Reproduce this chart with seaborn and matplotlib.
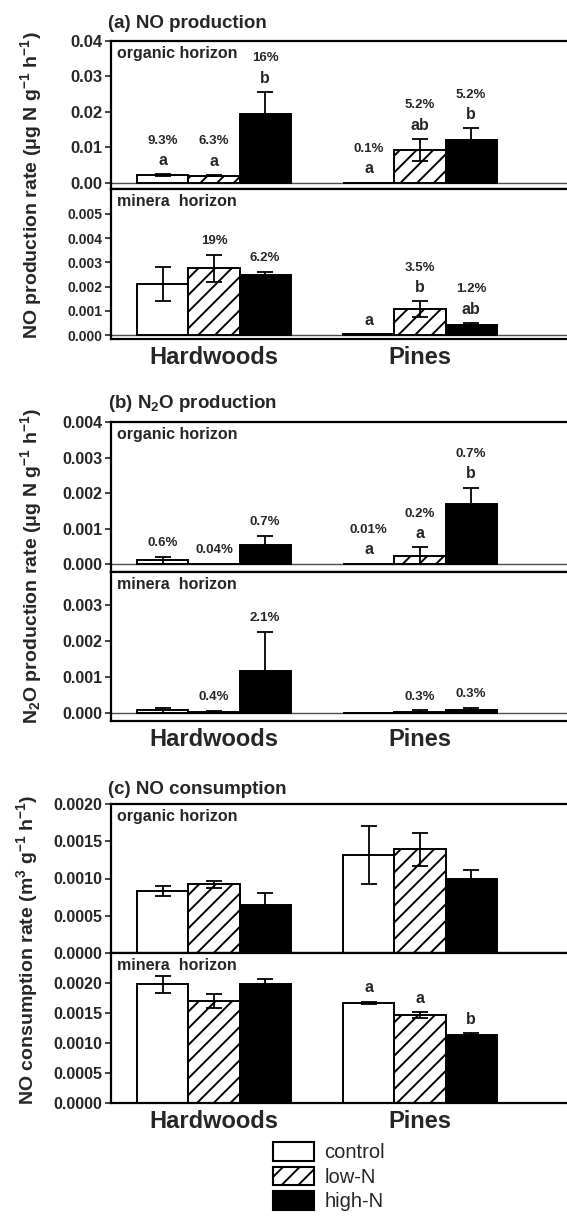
import numpy as np
import pandas as pd
import matplotlib
matplotlib.use("Agg")
import matplotlib.pyplot as plt
import seaborn as sns
from matplotlib.patches import Patch
from matplotlib.container import BarContainer
from matplotlib.ticker import FixedLocator, FormatStrFormatter

# categories
forests = ["Hardwoods", "Pines"]
treatments = ["control", "low-N", "high-N"]
bar_colors = ["white", "white", "black"]
hatches = ["", "//", ""]

# values in order: Hardwoods (control, low-N, high-N), Pines (control, low-N, high-N)
# (a) NO production
a_org_mean = [0.0022, 0.0021, 0.0195, 0.0001, 0.0093, 0.0120]
a_org_err = [0.0002, 0.0001, 0.0062, 0.0, 0.0031, 0.0034]
a_org_pct = ["9.3%", "6.3%", "16%", "0.1%", "5.2%", "5.2%"]
a_org_sig = ["a", "a", "b", "a", "ab", "b"]

a_min_mean = [0.00212, 0.00275, 0.00248, 0.00004, 0.00106, 0.00040]
a_min_err = [0.0007, 0.00055, 0.00014, 0.0, 0.00033, 0.0001]
a_min_pct = ["", "19%", "6.2%", "", "3.5%", "1.2%"]
a_min_sig = ["", "", "", "a", "b", "ab"]

# (b) N2O production
b_org_mean = [0.0001, 0.00001, 0.00053, 0.00001, 0.00023, 0.00169]
b_org_err = [0.0001, 0.0, 0.00027, 0.0, 0.00024, 0.00046]
b_org_pct = ["0.6%", "0.04%", "0.7%", "0.01%", "0.2%", "0.7%"]
b_org_sig = ["", "", "", "a", "a", "b"]

b_min_mean = [0.00008, 0.00003, 0.00115, 0.0, 0.00004, 0.00008]
b_min_err = [0.00007, 0.00004, 0.0011, 0.0, 0.00004, 0.00007]
b_min_pct = ["", "0.4%", "2.1%", "", "0.3%", "0.3%"]
b_min_sig = ["", "", "", "", "", ""]

# (c) NO consumption
c_org_mean = [0.00083, 0.00092, 0.00065, 0.00131, 0.00139, 0.00100]
c_org_err = [0.00007, 0.00005, 0.00015, 0.00039, 0.00022, 0.00011]
c_min_mean = [0.00198, 0.00170, 0.00198, 0.00167, 0.00146, 0.00113]
c_min_err = [0.00014, 0.00012, 0.00009, 0.00002, 0.00005, 0.00004]
c_min_sig = ["", "", "", "a", "a", "b"]

# tick values
a_org_ticks = [0.0, 0.01, 0.02, 0.03, 0.04]
a_min_ticks = [0.0, 0.001, 0.002, 0.003, 0.004, 0.005]
b_org_ticks = [0.0, 0.001, 0.002, 0.003, 0.004]
b_min_ticks = [0.0, 0.001, 0.002, 0.003]
c_ticks = [0.0, 0.0005, 0.001, 0.0015, 0.002]

sns.set_theme(style="ticks")
plt.rcParams["font.family"] = ["Liberation Sans", "DejaVu Sans"]
plt.rcParams["font.weight"] = "bold"
plt.rcParams["mathtext.fontset"] = "custom"
plt.rcParams["mathtext.rm"] = "Liberation Sans:bold"
plt.rcParams["mathtext.it"] = "Liberation Sans:bold"
plt.rcParams["mathtext.bf"] = "Liberation Sans:bold"
plt.rcParams["mathtext.default"] = "rm"
plt.rcParams["hatch.linewidth"] = 1.4

W, H = 567, 1218
fig = plt.figure(figsize=(W / 100, H / 100), dpi=100)


def make_ax(top, bottom):
    return fig.add_axes([111 / W, 1 - bottom / H, (600 - 111) / W, (bottom - top) / H])


def draw_panel(ax, means, errs, ylim, ticks, fmt, tick_fs, horizon,
               pct=None, sig=None, xlabels=False):
    df = pd.DataFrame({"forest": np.repeat(forests, 3),
                       "treatment": treatments * 2,
                       "rate": means})
    sns.barplot(data=df, x="forest", y="rate", hue="treatment",
                order=forests, hue_order=treatments, palette=bar_colors,
                saturation=1, edgecolor="black", linewidth=1.4, width=0.745,
                errorbar=None, legend=False, ax=ax)
    bar_conts = [c for c in ax.containers if isinstance(c, BarContainer)]
    for i, cont in enumerate(bar_conts):
        for bar in cont:
            x = bar.get_x() + bar.get_width() / 2
            k = int(round(x)) * 3 + i
            bar.set_hatch(hatches[i])
            y = bar.get_height()
            if errs[k] > 0:
                ax.errorbar(x, y, yerr=errs[k], color="black", capsize=6,
                            elinewidth=1.3, capthick=1.3, zorder=3)
            top = y + errs[k]
            has_sig = sig is not None and sig[k] != ""
            if has_sig:
                ax.annotate(sig[k], (x, top), xytext=(0, 4.5),
                            textcoords="offset points", ha="center",
                            va="bottom", fontsize=11.5, fontweight="bold")
            if pct is not None and pct[k] != "":
                ax.annotate(pct[k], (x, top), xytext=(0, 20 if has_sig else 5.5),
                            textcoords="offset points", ha="center",
                            va="bottom", fontsize=9.5, fontweight="bold")
    ax.axhline(0, color="0.3", lw=1, zorder=0.5)
    ax.set_xlim(-0.5, (600 - 214) / 206)
    ax.set_ylim(*ylim)
    ax.yaxis.set_major_locator(FixedLocator(ticks))
    ax.yaxis.set_major_formatter(FormatStrFormatter(fmt))
    ax.tick_params(axis="y", direction="out", length=4, width=1.2,
                   labelsize=tick_fs, pad=2)
    ax.set_xlabel("")
    ax.set_ylabel("")
    if xlabels:
        ax.tick_params(axis="x", length=0, labelsize=17, pad=5)
    else:
        ax.tick_params(axis="x", length=0, labelbottom=False)
    for s in ax.spines.values():
        s.set_linewidth(1.6)
        s.set_color("black")
    ax.annotate(horizon, (0, 1), xycoords="axes fraction", xytext=(4.5, -3.5),
                textcoords="offset points", ha="left", va="top",
                fontsize=11.5, fontweight="bold")


# panel (a)
ax = make_ax(41, 189)
draw_panel(ax, a_org_mean, a_org_err, (-0.0017, 0.04), a_org_ticks, "%.2f", 12,
           "organic horizon", a_org_pct, a_org_sig)
ax = make_ax(189, 339)
draw_panel(ax, a_min_mean, a_min_err, (-0.000165, 0.00603), a_min_ticks, "%.3f", 10,
           "minera  horizon", a_min_pct, a_min_sig, xlabels=True)

# panel (b)
ax = make_ax(422, 572)
draw_panel(ax, b_org_mean, b_org_err, (-0.000225, 0.004), b_org_ticks, "%.3f", 11.5,
           "organic horizon", b_org_pct, b_org_sig)
ax = make_ax(572, 721)
draw_panel(ax, b_min_mean, b_min_err, (-0.00022, 0.0039), b_min_ticks, "%.3f", 11.5,
           "minera  horizon", b_min_pct, b_min_sig, xlabels=True)

# panel (c)
ax = make_ax(804, 953)
draw_panel(ax, c_org_mean, c_org_err, (0, 0.002), c_ticks, "%.4f", 11.5,
           "organic horizon")
ax = make_ax(953, 1103)
draw_panel(ax, c_min_mean, c_min_err, (0, 0.0025), c_ticks, "%.4f", 11.5,
           "minera  horizon", sig=c_min_sig, xlabels=True)

# titles
fig.text(108 / W, 1 - 24 / H, "(a) NO production", fontsize=13.5, fontweight="bold", va="center")
fig.text(108 / W, 1 - 403 / H, "(b) N$_2$O production", fontsize=13.5, fontweight="bold", va="center")
fig.text(108 / W, 1 - 790 / H, "(c) NO consumption", fontsize=13.5, fontweight="bold", va="center")

# y labels
fig.text(31 / W, 1 - 185 / H, r"NO production rate ($\mu$g N g$^{-1}$ h$^{-1}$)",
         rotation=90, ha="center", va="center", fontsize=14, fontweight="bold")
fig.text(31 / W, 1 - 566 / H, r"N$_2$O production rate ($\mu$g N g$^{-1}$ h$^{-1}$)",
         rotation=90, ha="center", va="center", fontsize=14, fontweight="bold")
fig.text(27 / W, 1 - 950 / H, r"NO consumption rate (m$^3$ g$^{-1}$ h$^{-1}$)",
         rotation=90, ha="center", va="center", fontsize=14, fontweight="bold")

# legend
handles = [Patch(facecolor=c, edgecolor="black", hatch=h, linewidth=1.5)
           for c, h in zip(bar_colors, hatches)]
fig.legend(handles, treatments, loc="upper left",
           bbox_to_anchor=(273 / W, 1 - 1142 / H), frameon=False,
           prop={"size": 14.5, "weight": "normal"}, handlelength=2.05,
           handleheight=1.05, labelspacing=0.22, handletextpad=0.5,
           borderpad=0, borderaxespad=0)

fig.savefig("out.png", dpi=100)
